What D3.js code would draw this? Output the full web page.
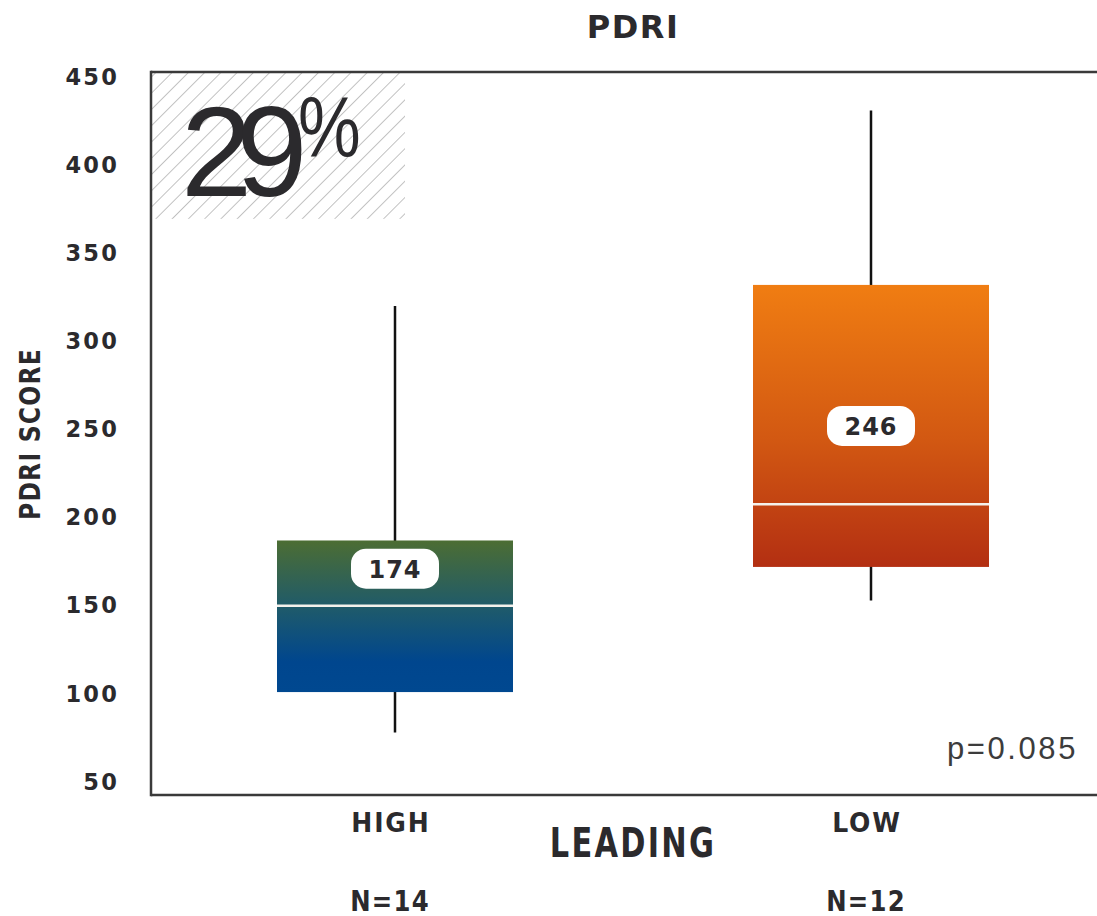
<!DOCTYPE html>
<html><head><meta charset="utf-8">
<script src="https://cdn.jsdelivr.net/npm/d3@7"></script>
<style>body{margin:0;background:#fff}svg{display:block}</style>
</head><body>
<svg id="c" width="1097" height="916"></svg>
<script>
const categories = ["HIGH", "LOW"];
const nLabels = ["N=14", "N=12"];
const whiskerLow = [78, 153];
const q1 = [101, 172];
const medians = [150, 207.5];
const q3 = [187, 332];
const whiskerHigh = [320, 431];
const means = [174, 246];
const meanLabelPos = [171, 252];
const yTicks = [50, 100, 150, 200, 250, 300, 350, 400, 450];
const highlightPct = "29";
const pValue = "p=0.085";

const svg = d3.select("#c");
const W = 1097, H = 916;
const mLeft = 151, mTop = 72, mBottom = 795;
const y = d3.scaleLinear().domain([42.6, 452.8]).range([mBottom, mTop]);
const x = d3.scalePoint().domain(categories).range([395, 871]);
const boxW = 236;
const ink = "#2b2a2d";
const boldFont = "DejaVu Sans, sans-serif";

const defs = svg.append("defs");
const pat = defs.append("pattern").attr("id", "hatch").attr("patternUnits", "userSpaceOnUse")
  .attr("width", 11.5).attr("height", 11.5).attr("patternTransform", "rotate(45)");
pat.append("line").attr("x1", 0).attr("y1", 0).attr("x2", 0).attr("y2", 11.5)
  .attr("stroke", "#a8a8a8").attr("stroke-width", 1.4);

const gradStops = [
  [["0%", "#4c6d33"], ["45%", "#1e5a6b"], ["80%", "#00468e"], ["100%", "#004890"]],
  [["0%", "#f07d12"], ["55%", "#d25812"], ["100%", "#b32f12"]]
];
gradStops.forEach((stops, i) => {
  const g = defs.append("linearGradient").attr("id", "g" + i).attr("x1", 0).attr("x2", 0).attr("y1", 0).attr("y2", 1);
  stops.forEach(s => g.append("stop").attr("offset", s[0]).attr("stop-color", s[1]));
});

// hatch region
svg.append("rect").attr("x", mLeft).attr("y", mTop).attr("width", 405 - mLeft).attr("height", y(369.5) - mTop)
  .attr("fill", "url(#hatch)");

// big 29%
svg.append("text").attr("x", 181).attr("y", 196).attr("fill", ink)
  .attr("font-family", "Liberation Sans, Arial, sans-serif").attr("font-size", 128)
  .attr("letter-spacing", -16).text(highlightPct);
svg.append("text").attr("transform", "translate(298,157) scale(0.82,1)").attr("fill", ink)
  .attr("font-family", "Liberation Sans, Arial, sans-serif").attr("font-size", 86)
  .text("%");

// frame
svg.append("line").attr("x1", mLeft).attr("x2", mLeft).attr("y1", mTop - 1.2).attr("y2", mBottom + 1.2)
  .attr("stroke", "#3a3a3a").attr("stroke-width", 2.5);
svg.append("line").attr("x1", mLeft).attr("x2", W).attr("y1", mTop).attr("y2", mTop)
  .attr("stroke", "#3a3a3a").attr("stroke-width", 2.5);
svg.append("line").attr("x1", mLeft).attr("x2", W).attr("y1", mBottom).attr("y2", mBottom)
  .attr("stroke", "#3a3a3a").attr("stroke-width", 2.5);

// y axis
const ax = svg.append("g").attr("transform", `translate(119,0)`)
  .call(d3.axisLeft(y).tickValues(yTicks).tickSize(0).tickPadding(0));
ax.select(".domain").remove();
ax.selectAll("text").attr("fill", ink).attr("font-family", boldFont)
  .attr("font-weight", "bold").attr("font-size", 22.5).attr("letter-spacing", 2.2);

// boxes
const groups = svg.selectAll(".box").data(categories).join("g").attr("class", "box");
groups.append("line").attr("x1", d => x(d)).attr("x2", d => x(d))
  .attr("y1", (d, i) => y(whiskerHigh[i])).attr("y2", (d, i) => y(whiskerLow[i]))
  .attr("stroke", "#111").attr("stroke-width", 2.5);
groups.append("rect").attr("x", d => x(d) - boxW / 2).attr("width", boxW)
  .attr("y", (d, i) => y(q3[i])).attr("height", (d, i) => y(q1[i]) - y(q3[i]))
  .attr("fill", (d, i) => `url(#g${i})`);
groups.append("line").attr("x1", d => x(d) - boxW / 2).attr("x2", d => x(d) + boxW / 2)
  .attr("y1", (d, i) => y(medians[i])).attr("y2", (d, i) => y(medians[i]))
  .attr("stroke", "#f4f1ec").attr("stroke-width", 2.5);
groups.append("rect").attr("x", d => x(d) - 44).attr("width", 88)
  .attr("y", (d, i) => y(meanLabelPos[i]) - 20).attr("height", 40).attr("rx", 15)
  .attr("fill", "#fff");
groups.append("text").attr("x", d => x(d)).attr("y", (d, i) => y(meanLabelPos[i]) + 9)
  .attr("text-anchor", "middle").attr("fill", ink).attr("font-family", boldFont)
  .attr("font-weight", "bold").attr("font-size", 24).attr("letter-spacing", 1)
  .text((d, i) => means[i]);

// x category labels (condensed via horizontal scale)
svg.selectAll(".cat").data(categories).join("text").attr("class", "cat")
  .attr("transform", d => `translate(${x(d) - 4},832) scale(0.93,1)`).attr("text-anchor", "middle").attr("fill", ink)
  .attr("font-family", boldFont).attr("font-weight", "bold").attr("font-size", 27)
  .attr("letter-spacing", 2).text(d => d);
svg.selectAll(".n").data(nLabels).join("text").attr("class", "n")
  .attr("transform", (d, i) => `translate(${x(categories[i]) - 5},911) scale(0.84,1)`).attr("text-anchor", "middle").attr("fill", ink)
  .attr("font-family", boldFont).attr("font-weight", "bold").attr("font-size", 29)
  .attr("letter-spacing", 1.5).text(d => d);

svg.append("text").attr("transform", "translate(633,857) scale(0.76,1)").attr("text-anchor", "middle").attr("fill", ink)
  .attr("font-family", boldFont).attr("font-weight", "bold").attr("font-size", 40)
  .attr("letter-spacing", 3).text("LEADING");

svg.append("text").attr("transform", "translate(40,434) rotate(-90) scale(0.81,1)").attr("text-anchor", "middle")
  .attr("fill", ink).attr("font-family", boldFont).attr("font-weight", "bold").attr("font-size", 29)
  .attr("letter-spacing", 1.5).text("PDRI SCORE");

svg.append("text").attr("x", 633).attr("y", 38).attr("text-anchor", "middle").attr("fill", ink)
  .attr("font-family", boldFont).attr("font-weight", "bold").attr("font-size", 32)
  .attr("letter-spacing", 1.5).text("PDRI");

svg.append("text").attr("x", 1078).attr("y", 759).attr("text-anchor", "end").attr("fill", "#3c3c3c")
  .attr("font-family", "Liberation Sans, Arial, sans-serif").attr("font-size", 31)
  .attr("letter-spacing", 2.6).text(pValue);
</script>
</body></html>
